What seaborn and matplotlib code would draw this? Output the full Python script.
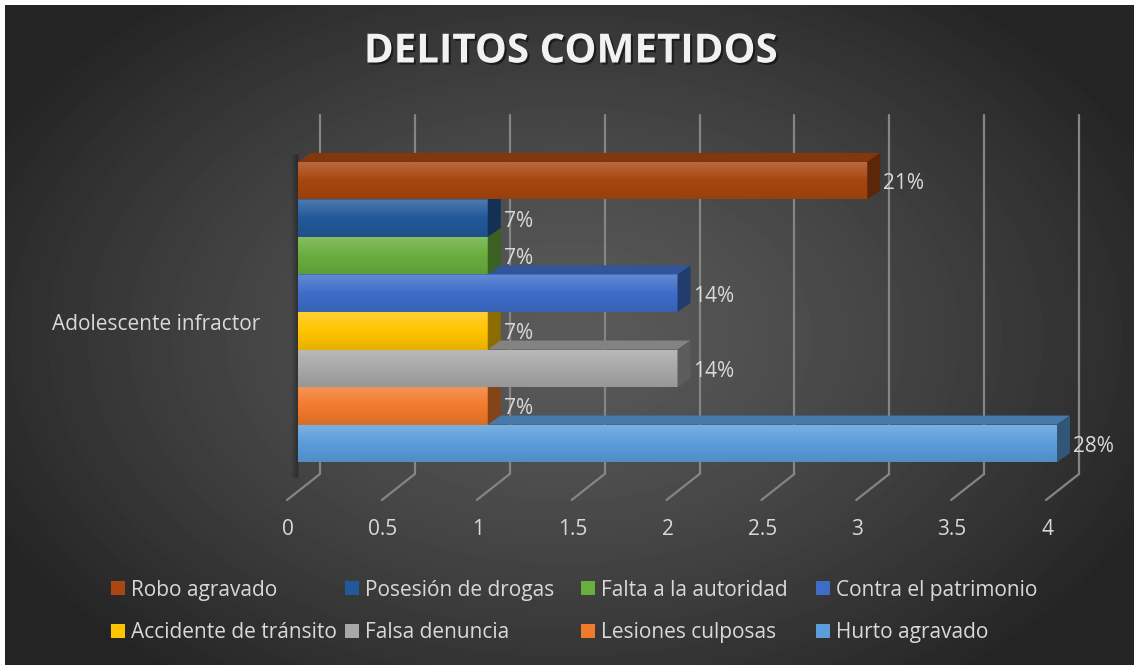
import numpy as np
import pandas as pd
import matplotlib
matplotlib.use("Agg")
import matplotlib.pyplot as plt
import matplotlib.colors as mcolors
import matplotlib.transforms as mtrans
import matplotlib.patheffects as pe
from matplotlib.patches import Polygon
import seaborn as sns

# datos
grupo = "Adolescente infractor"
delitos = ["Robo agravado", "Posesión de drogas", "Falta a la autoridad", "Contra el patrimonio",
           "Accidente de tránsito", "Falsa denuncia", "Lesiones culposas", "Hurto agravado"]
casos = [3, 1, 1, 2, 1, 2, 1, 4]
etiquetas = ["21%", "7%", "7%", "14%", "7%", "14%", "7%", "28%"]
colores = ["#A8470F", "#22599A", "#6AAE3E", "#3E6DC8", "#FFC400", "#A8A8A8", "#F27A2C", "#5B9DDB"]
xticks = [0, 0.5, 1, 1.5, 2, 2.5, 3, 3.5, 4]

df = pd.DataFrame({"grupo": grupo, "delito": delitos, "casos": casos})

W, H = 1134, 665
sns.set_theme(style="white")
plt.rcParams["font.family"] = ["Open Sans", "DejaVu Sans"]
txt = "#d9d9d9"
fs = 15

fig = plt.figure(figsize=(W / 100, H / 100), dpi=100, facecolor="white")

# fondo con degradado radial
bg = fig.add_axes([5 / W, 0, 1 - 5 / W, 1 - 5 / H])
yy, xx = np.mgrid[0:660, 0:1129]
r = np.sqrt(((xx - 560) / 640) ** 2 + ((yy - 330) / 430) ** 2)
lvl = (0x5a - (0x5a - 0x25) * np.clip(r, 0, 1) ** 1.3) / 255
bg.imshow(lvl, cmap="gray", vmin=0, vmax=1, aspect="auto", interpolation="bilinear")
bg.set_axis_off()

# area del grafico: x 298..1057 px, y 115..500 px
ax = fig.add_axes([298 / W, (H - 500) / H, (1057 - 298) / W, (500 - 115) / H])
ax.patch.set_alpha(0)
sns.barplot(data=df, y="grupo", x="casos", hue="delito", hue_order=delitos,
            palette=colores, width=0.8, saturation=1, orient="h", ax=ax)

handles, labels = ax.get_legend_handles_labels()
if ax.legend_ is not None:
    ax.legend_.remove()
for hd in handles:
    hd.set_edgecolor("none")
    hd.set_linewidth(0)

YTOP, YBOT = -0.525, 0.501
ax.set_xlim(0, 4)
ax.set_ylim(YBOT, YTOP)
pxx = 4 / (1057 - 298)
pxy = (YBOT - YTOP) / (500 - 115)

# rejilla en la pared del fondo y el suelo
gx, fx = 22 * pxx, -11 * pxx
yfloor = YTOP + (474 - 115) * pxy
for v in xticks:
    ax.plot([v + gx, v + gx], [YTOP, yfloor], color="#858585", lw=1.6, clip_on=False, zorder=1)
    ax.plot([v + gx, v + fx], [yfloor, YBOT], color="#858585", lw=1.6, clip_on=False, zorder=1)

# sombra de la pared izquierda
for k in range(10):
    ax.plot([-k * pxx * 0.7, -k * pxx * 0.7], [YTOP + 40 * pxy, YTOP + 362 * pxy],
            color="black", alpha=0.14 * (1 - k / 10), lw=1.2, clip_on=False, zorder=1.5)

# caras 3D de las barras
dx, dy = 13 * pxx, -9 * pxy
n = len(ax.containers)
for i, cont in enumerate(ax.containers):
    bar = cont[0]
    base = np.array(mcolors.to_rgb(colores[i]))
    z = 2 + (n - i) * 0.1
    x0, y0, w, h = bar.get_x(), bar.get_y(), bar.get_width(), bar.get_height()
    bar.set_zorder(z)
    bar.set_edgecolor("none")
    # degradado frontal
    top_c = base + (1 - base) * 0.2
    bot_c = base * 0.9
    t = np.linspace(0, 1, 60)[:, None]
    grad = np.where(t < 0.5, top_c + (base - top_c) * (t / 0.5), base + (bot_c - base) * ((t - 0.5) / 0.5))
    img = ax.imshow(grad[:, None, :], extent=[x0, x0 + w, y0 + h, y0], aspect="auto",
                    interpolation="bilinear", zorder=z + 0.01)
    img.set_clip_path(bar)
    top = Polygon([(x0, y0), (x0 + dx, y0 + dy), (x0 + w + dx, y0 + dy), (x0 + w, y0)],
                  closed=True, facecolor=base * 0.78, edgecolor="none", zorder=z + 0.02, clip_on=False)
    side = Polygon([(x0 + w, y0), (x0 + w + dx, y0 + dy), (x0 + w + dx, y0 + h + dy), (x0 + w, y0 + h)],
                   closed=True, facecolor=base * 0.55, edgecolor="none", zorder=z + 0.03, clip_on=False)
    ax.add_patch(top)
    ax.add_patch(side)
    ax.text(x0 + w + dx + 3 * pxx, y0 + h / 2 + 3 * pxy, etiquetas[i], ha="left", va="center",
            color=txt, fontsize=fs, zorder=5, clip_on=False)

ax.set_xlim(0, 4)
ax.set_ylim(YBOT, YTOP)

# ejes
for s in ax.spines.values():
    s.set_visible(False)
ax.grid(False)
ax.set_xlabel("")
ax.set_ylabel("")
ax.set_xticks(xticks)
ax.set_xticklabels([f"{v:g}" for v in xticks])
ax.tick_params(axis="x", length=0, pad=14, labelsize=fs, labelcolor=txt)
ax.tick_params(axis="y", length=0, pad=27, labelsize=fs, labelcolor=txt)
for lbl in ax.get_xticklabels():
    lbl.set_transform(lbl.get_transform() + mtrans.ScaledTranslation(-10 / 100, 0, fig.dpi_scale_trans))
for lbl in ax.get_yticklabels():
    lbl.set_transform(lbl.get_transform() + mtrans.ScaledTranslation(0, -10 / 100, fig.dpi_scale_trans))

# leyenda: cuatro columnas de dos filas
col_x = [111, 345, 581, 816]
for j in range(4):
    leg = fig.legend([handles[j], handles[j + 4]], [labels[j], labels[j + 4]],
                     loc="center left", bbox_to_anchor=(col_x[j] / W, 1 - 611.5 / H),
                     frameon=False, borderpad=0, borderaxespad=0, fontsize=fs,
                     handlelength=0.68, handleheight=0.68, handletextpad=0.3, labelspacing=1.05)
    for t_ in leg.get_texts():
        t_.set_color(txt)

# titulo
fig.text(571 / W, 1 - 52 / H, "DELITOS COMETIDOS", ha="center", va="center",
         fontsize=29, fontweight="bold", color="#f2f2f2",
         path_effects=[pe.withSimplePatchShadow(offset=(1.5, -1.5), shadow_rgbFace="black", alpha=0.5)])

fig.savefig("out.png", dpi=100, facecolor=fig.get_facecolor())
